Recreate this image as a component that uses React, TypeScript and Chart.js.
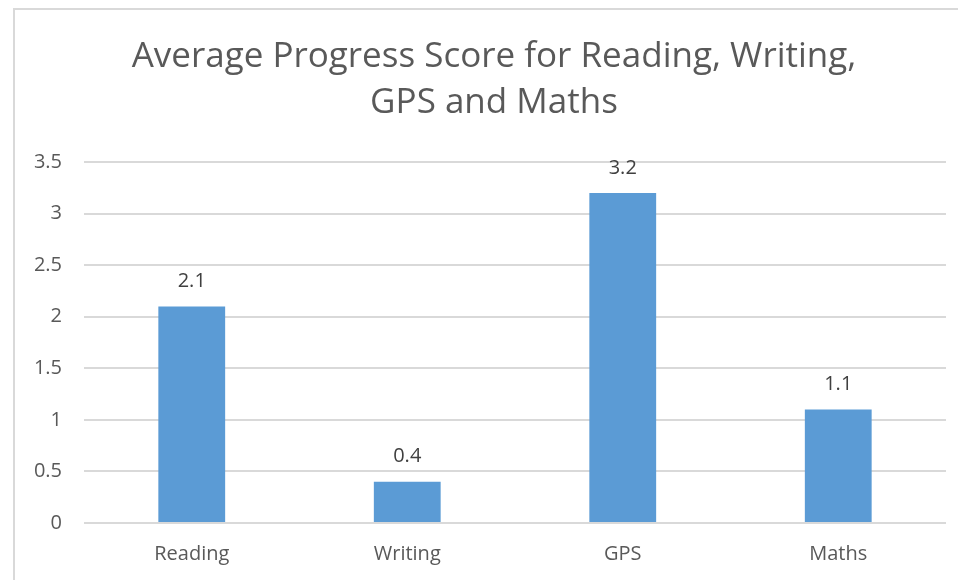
import React, { useEffect, useRef } from "react";
import { Chart, registerables } from "chart.js";

Chart.register(...registerables);

const categories = ["Reading", "Writing", "GPS", "Maths"];
const scores = [2.1, 0.4, 3.2, 1.1];
const titleLines = ["Average Progress Score for Reading, Writing,", "GPS and Maths"];

const FONT = "'Open Sans', 'Noto Sans', sans-serif";
const TEXT = "#595959";

const framePlugin = {
  id: "frame",
  beforeDraw(chart: any) {
    const ctx = chart.ctx;
    ctx.save();
    ctx.fillStyle = "#ffffff";
    ctx.fillRect(0, 0, chart.width, chart.height);
    ctx.strokeStyle = "#D9D9D9";
    ctx.lineWidth = 2;
    ctx.strokeRect(14, 9, chart.width + 20, chart.height + 20);
    ctx.restore();
  },
  afterDraw(chart: any) {
    const ctx = chart.ctx;
    ctx.save();
    ctx.fillStyle = TEXT;
    ctx.textAlign = "center";
    ctx.textBaseline = "middle";
    ctx.font = `35px ${FONT}`;
    ctx.fillText(titleLines[0], 494, 57);
    ctx.fillText(titleLines[1], 494, 103);
    // data labels
    const meta = chart.getDatasetMeta(0);
    ctx.font = `20px ${FONT}`;
    ctx.fillStyle = "#404040";
    ctx.textBaseline = "middle";
    meta.data.forEach((bar: any, i: number) => {
      ctx.fillText(String(scores[i]), bar.x, bar.y - 25);
    });
    ctx.restore();
  },
};

export default function App() {
  const ref = useRef<HTMLCanvasElement | null>(null);
  useEffect(() => {
    if (!ref.current) return;
    const chart = new Chart(ref.current, {
      type: "bar",
      data: {
        labels: categories,
        datasets: [
          {
            data: scores,
            backgroundColor: "#5B9BD5",
            categoryPercentage: 1,
            barPercentage: 0.31,
          },
        ],
      },
      options: {
        animation: false,
        responsive: false,
        maintainAspectRatio: false,
        layout: { padding: { top: 162, right: 12, left: 14, bottom: 0 } },
        plugins: { legend: { display: false }, tooltip: { enabled: false }, title: { display: false } },
        scales: {
          x: {
            grid: { display: false },
            border: { display: false },
            ticks: { color: TEXT, font: { family: FONT, size: 20 }, padding: 11 },
            afterFit(scale: any) {
              scale.height = 57;
            },
          },
          y: {
            min: 0,
            max: 3.5,
            ticks: {
              stepSize: 0.5,
              color: TEXT,
              font: { family: FONT, size: 20 },
              padding: 22,
              callback: (v: any) => String(Number(v)),
            },
            grid: { color: "#D9D9D9", lineWidth: 2, drawTicks: false },
            border: { display: false },
            afterFit(scale: any) {
              scale.width = 70;
            },
          },
        },
      },
      plugins: [framePlugin],
    });
    return () => chart.destroy();
  }, []);
  return (
    <div style={{ position: "fixed", left: 0, top: 0, width: 958, height: 580 }}>
      <canvas ref={ref} width={958} height={580} style={{ width: 958, height: 580, display: "block" }} />
    </div>
  );
}
